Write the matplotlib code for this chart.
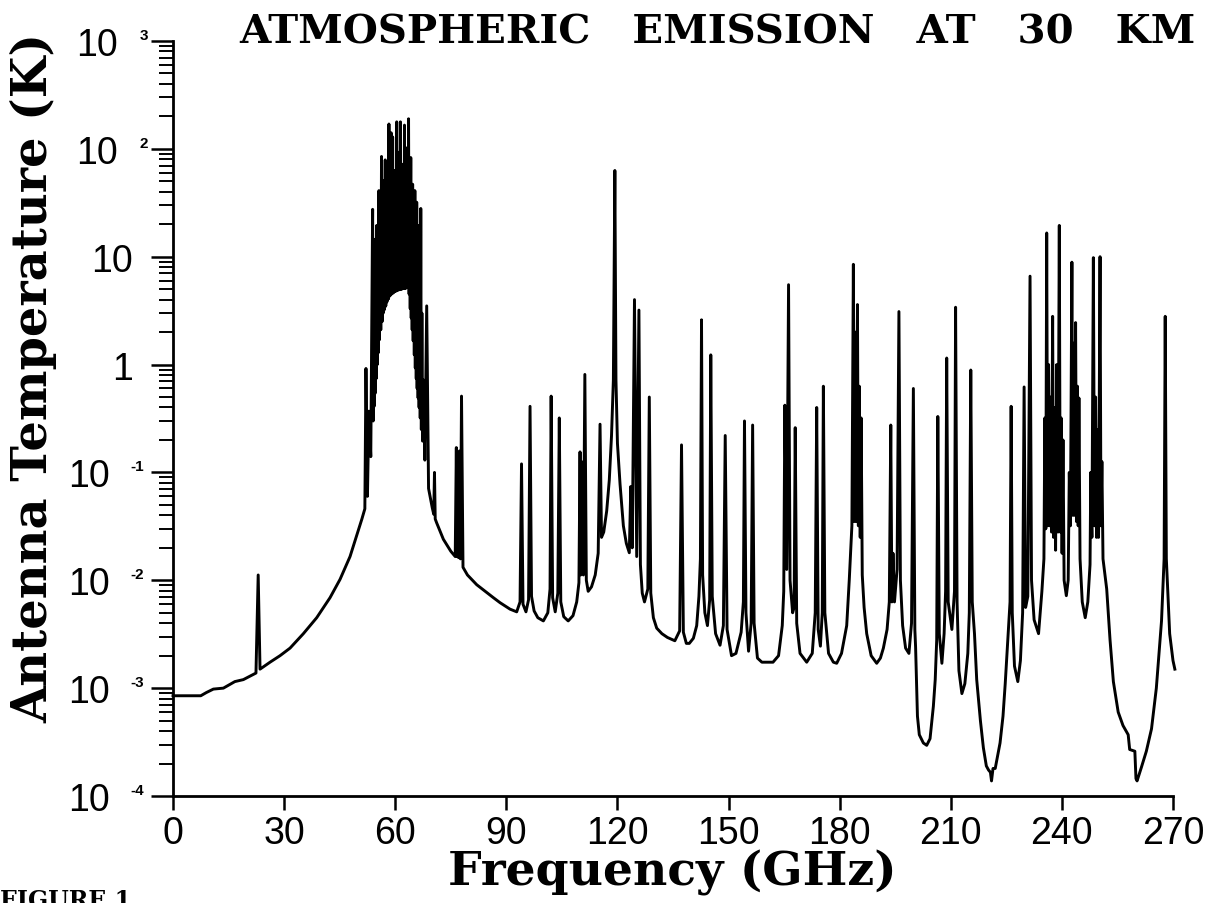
import numpy as np
import matplotlib
matplotlib.use('Agg')
import matplotlib.pyplot as plt
from matplotlib import transforms
from matplotlib.ticker import LogLocator, NullFormatter

plt.rcParams['font.family'] = ['Liberation Sans', 'DejaVu Sans']

# ---- data ----
# continuum / line wings (GHz, K)
cont_f = [0.0, 3.0, 7.5, 9.0, 10.9, 13.6, 16.7, 19.0, 22.4,
          23.5, 26.2, 28.9, 31.6, 35.2, 38.8, 42.4, 45.1, 47.8, 49.6, 51.0, 51.8,
          52.5, 69.0, 70.0, 70.4, 70.8, 71.2, 73.0,
          75.0, 76.2, 76.7, 77.1, 77.6, 78.3, 79.5, 82.0, 84.3, 86.5, 88.3, 91.0,
          92.8, 93.7, 94.5, 95.3, 96.0, 96.8, 97.5, 98.5, 100.0, 101.2, 101.8,
          102.5, 103.2, 103.9, 104.7, 105.5, 106.7, 108.0, 109.0, 109.6, 110.1,
          110.8, 111.6, 112.1, 113.0, 114.0, 114.8, 115.7, 116.3, 117.1, 117.8,
          118.4, 118.9, 119.6, 120.0, 120.7, 121.6, 122.4, 123.2, 124.0, 125.2,
          126.2, 126.7, 127.3, 128.2, 129.0, 129.7, 130.6, 132.0, 133.5, 135.5,
          136.8, 137.8, 138.6, 139.4, 140.5, 141.4, 142.0, 142.4, 143.0, 143.6,
          144.3, 144.9, 145.6, 146.5, 147.7, 148.6, 149.6, 150.8, 152.0, 153.4,
          154.0, 154.7, 155.4, 156.1, 156.9, 157.8, 159.0, 162.0, 163.5, 164.5,
          164.9, 165.7, 166.6, 167.3, 167.7, 168.4, 169.3, 171.1, 172.6, 173.4,
          174.2, 174.8, 175.3, 176.0, 177.0, 178.3, 179.2, 180.5, 181.9, 182.6,
          183.3, 183.95, 184.5, 185.05, 185.55, 186.1, 186.6, 187.3, 188.5, 190.0,
          191.0, 191.8, 192.8, 193.4, 194.1, 194.8, 195.5, 196.4, 197.0, 197.8,
          198.7, 199.4, 200.3, 200.5, 201.0, 201.5, 202.6, 203.5, 204.4, 205.3,
          205.8, 206.2, 206.9, 207.6, 208.2, 208.6, 209.3, 210.3, 211.0, 211.7,
          212.2, 213.0, 213.8, 214.6, 215.0, 215.8, 216.4, 217.0, 218.0, 218.8,
          219.6, 220.2, 220.7, 221.0, 221.4, 222.0, 223.3, 224.1, 224.7, 225.5,
          226.0, 226.6, 227.2, 228.1, 228.8, 229.4, 230.2, 230.8, 231.8, 232.5,
          233.7, 234.6, 235.15, 235.65, 236.15, 236.65, 237.2, 237.75, 238.3,
          238.95, 239.55, 240.05, 240.6, 241.2, 241.7, 242.3, 242.95, 243.45,
          243.95, 244.4, 244.9, 245.5, 246.3, 247.0, 247.6, 248.1, 248.8, 249.35,
          249.9, 250.55, 251.1, 252.1, 253.0, 253.9, 255.2, 256.5, 257.9, 258.3,
          259.7, 260.0, 260.3, 261.5, 262.8, 264.2, 265.5, 266.9, 267.6, 268.2,
          269.1, 270.0, 270.5]
cont_T = [8.5e-4, 8.5e-4, 8.5e-4, 9.1e-4, 9.8e-4, 1.0e-3, 1.15e-3, 1.2e-3, 1.38e-3,
          1.5e-3, 1.74e-3, 2.0e-3, 2.35e-3, 3.2e-3, 4.5e-3, 6.9e-3, 1.02e-2, 1.66e-2, 2.6e-2, 3.7e-2, 4.6e-2,
          6.0e-2, 0.071, 0.047, 0.041, 0.037, 0.034, 0.024,
          0.0186, 0.0166, 0.0166, 0.0162, 0.0158, 0.0132, 0.0112, 9.1e-3, 7.9e-3, 6.9e-3, 6.2e-3, 5.4e-3,
          5.1e-3, 6.3e-3, 6.0e-3, 5.1e-3, 6.6e-3, 7.1e-3, 5.2e-3, 4.5e-3, 4.2e-3, 5.0e-3, 8.3e-3,
          6.9e-3, 5.1e-3, 7.6e-3, 6.3e-3, 4.6e-3, 4.2e-3, 4.7e-3, 6.3e-3, 9.5e-3, 0.0112,
          0.0112, 0.010, 7.9e-3, 8.7e-3, 0.0112, 0.0178, 0.025, 0.028, 0.044, 0.085,
          0.22, 0.72, 0.72, 0.186, 0.078, 0.032, 0.022, 0.018, 0.020, 0.0166,
          0.014, 7.6e-3, 6.3e-3, 8.3e-3, 7.6e-3, 4.5e-3, 3.6e-3, 3.2e-3, 2.95e-3, 2.75e-3,
          3.4e-3, 3.3e-3, 2.6e-3, 2.6e-3, 2.9e-3, 3.8e-3, 7.1e-3, 0.0158, 0.0112, 5.0e-3,
          3.8e-3, 6.6e-3, 7.1e-3, 3.2e-3, 2.5e-3, 3.8e-3, 3.5e-3, 2.0e-3, 2.1e-3, 3.3e-3,
          6.3e-3, 5.0e-3, 2.2e-3, 4.0e-3, 4.0e-3, 1.9e-3, 1.74e-3, 1.74e-3, 2.0e-3, 3.8e-3,
          7.9e-3, 0.0126, 0.010, 5.0e-3, 5.6e-3, 4.0e-3, 2.1e-3, 1.74e-3, 2.1e-3, 5.0e-3,
          3.5e-3, 2.45e-3, 5.0e-3, 5.0e-3, 2.1e-3, 1.74e-3, 1.7e-3, 2.1e-3, 3.8e-3, 0.0102,
          0.032, 0.035, 0.035, 0.032, 0.025, 0.0112, 5.6e-3, 3.2e-3, 2.0e-3, 1.7e-3,
          1.9e-3, 2.35e-3, 3.5e-3, 6.3e-3, 6.3e-3, 6.3e-3, 0.0126, 0.010, 3.8e-3, 2.35e-3,
          2.1e-3, 4.0e-3, 3.5e-3, 2.4e-3, 5.5e-4, 3.7e-4, 3.1e-4, 2.95e-4, 3.4e-4, 6.8e-4,
          1.2e-3, 2.8e-3, 3.2e-3, 1.7e-3, 3.2e-3, 7.9e-3, 6.3e-3, 3.5e-3, 7.9e-3, 6.3e-3,
          1.45e-3, 8.9e-4, 1.1e-3, 2.1e-3, 5.0e-3, 6.3e-3, 3.2e-3, 1.2e-3, 5.0e-4, 2.8e-4,
          1.9e-4, 1.74e-4, 1.66e-4, 1.38e-4, 1.8e-4, 1.8e-4, 3.1e-4, 5.5e-4, 1.1e-3, 3.2e-3,
          6.3e-3, 5.0e-3, 1.6e-3, 1.15e-3, 1.8e-3, 5.0e-3, 5.6e-3, 7.1e-3, 0.010, 4.3e-3,
          3.2e-3, 7.9e-3, 0.0158, 0.030, 0.032, 0.032, 0.028, 0.025, 0.019,
          0.028, 0.028, 0.0178, 0.010, 7.2e-3, 0.010, 0.032, 0.040, 0.040,
          0.035, 0.032, 0.0158, 6.3e-3, 4.5e-3, 6.3e-3, 0.014, 0.025, 0.032, 0.025,
          0.025, 0.032, 0.0158, 8.3e-3, 2.8e-3, 1.15e-3, 6.0e-4, 4.5e-4, 3.7e-4, 2.7e-4,
          2.6e-4, 1.45e-4, 1.38e-4, 1.86e-4, 2.6e-4, 4.2e-4, 1.0e-3, 4.2e-3, 0.0158, 0.0158,
          3.2e-3, 1.8e-3, 1.5e-3]

# isolated line peaks (GHz, K)
line_f = [23.0, 52.1, 52.9, 68.5, 70.6, 76.5, 76.9, 77.3, 77.9,
          94.1, 96.4, 102.1, 104.3, 109.9, 110.3, 111.2, 115.3, 119.3, 123.6,
          124.6, 125.8, 128.6, 137.3, 142.7, 145.2, 149.1, 154.3, 156.5, 165.2,
          166.2, 168.0, 173.8, 175.6, 183.7, 184.2, 184.8, 185.3, 185.8, 193.8,
          194.4, 196.0, 199.9, 206.5, 208.9, 211.3, 215.4, 226.3, 229.8, 231.4,
          235.4, 235.9, 236.4, 236.9, 237.5, 238.0, 238.6, 239.3, 239.8, 240.3,
          242.0, 242.7, 243.2, 243.7, 244.2, 244.6, 247.8, 248.5, 249.1, 249.6,
          250.3, 250.8, 267.9]
line_T = [0.0112, 0.92, 0.37, 3.5, 0.10, 0.17, 0.14, 0.158, 0.51,
          0.12, 0.41, 0.51, 0.32, 0.155, 0.126, 0.81, 0.28, 63, 0.074,
          4.0, 3.2, 0.50, 0.18, 2.6, 1.23, 0.22, 0.30, 0.275, 0.42,
          5.5, 0.26, 0.40, 0.63, 8.5, 2.0, 3.6, 0.63, 0.32, 0.275,
          0.0178, 3.1, 0.60, 0.33, 1.15, 3.4, 0.89, 0.41, 0.62, 6.6,
          0.32, 16.6, 1.0, 0.50, 2.8, 0.40, 1.0, 19.5, 0.32, 0.20,
          0.10, 8.9, 1.58, 2.45, 0.63, 0.49, 0.10, 9.8, 0.50, 0.25,
          10, 0.126, 2.8]

# 60 GHz oxygen band: lower envelope and line peaks
band_base_f = [53.4, 54.05, 54.3, 54.55, 54.85, 55.15, 55.45, 55.75, 56.1, 56.45,
               56.75, 57.0, 57.2, 57.45, 57.75, 58.0, 58.2, 58.45, 58.75, 59.0,
               59.2, 59.42, 59.68, 59.95, 60.25, 60.55, 60.85, 61.1, 61.3, 61.52,
               61.78, 62.05, 62.35, 62.62, 62.88, 63.15, 63.45, 63.75, 64.05, 64.32,
               64.58, 64.85, 65.15, 65.42, 65.68, 65.92, 66.18, 66.45, 66.75, 67.05,
               67.4, 68.0]
band_base_T = [0.14, 0.30, 0.41, 0.54, 0.74, 1.0, 1.29, 1.7, 2.1, 2.5,
               3.0, 3.2, 3.4, 3.5, 3.8, 4.0, 4.1, 4.3, 4.4, 4.5,
               4.6, 4.6, 4.7, 4.8, 4.8, 4.9, 4.9, 5.0, 5.0, 5.0,
               5.0, 5.1, 5.1, 5.1, 5.1, 5.2, 5.2, 4.5, 3.3, 2.7,
               2.1, 1.66, 1.23, 0.93, 0.74, 0.60, 0.49, 0.40, 0.32, 0.25,
               0.195, 0.13]
band_f = [53.9, 54.2, 54.4, 54.7, 55.0, 55.3, 55.6, 55.9, 56.3, 56.6,
          56.9, 57.1, 57.3, 57.6, 57.9, 58.1, 58.3, 58.6, 58.9, 59.1,
          59.3, 59.55, 59.8, 60.1, 60.4, 60.7, 61.0, 61.2, 61.4, 61.65,
          61.9, 62.2, 62.5, 62.75, 63.0, 63.3, 63.6, 63.9, 64.2, 64.45,
          64.7, 65.0, 65.3, 65.55, 65.8, 66.05, 66.3, 66.6, 66.9, 67.2, 67.6]
band_T = [27.5, 12, 14.5, 10, 19.5, 18, 41, 25, 85, 35,
          51, 40, 79, 45, 69, 50, 170, 60, 141, 55,
          129, 50, 63, 60, 178, 55, 93, 60, 178, 55,
          72, 60, 166, 55, 102, 60, 190, 45, 83, 35,
          47, 30, 41, 25, 32, 18, 19.5, 15, 28, 3.0, 0.72]

xtick_vals = [0, 30, 60, 90, 120, 150, 180, 210, 240, 270]
ytick_vals = [1e-4, 1e-3, 1e-2, 1e-1, 1, 10, 100, 1000]
ytick_base = ['10', '10', '10', '10', '1', '10', '10', '10']
ytick_exp = ['-4', '-3', '-2', '-1', '', '', '2', '3']

# ---- figure ----
W, H = 1219, 904
fig = plt.figure(figsize=(W / 100, H / 100), dpi=100)
ax = fig.add_axes([173 / W, 1 - 797 / H, 1000 / W, 755 / H])

f_all = np.concatenate([cont_f, line_f, band_base_f, band_f])
T_all = np.concatenate([cont_T, line_T, band_base_T, band_T])
order = np.argsort(f_all, kind='stable')
ax.plot(f_all[order], T_all[order], color='black', lw=2.1, clip_on=False)

ax.set_yscale('log')
ax.set_xlim(0, 270)
ax.set_ylim(1e-4, 1e3)

for s in ['top', 'right']:
    ax.spines[s].set_visible(False)
for s in ['left', 'bottom']:
    ax.spines[s].set_linewidth(2.0)

ax.set_xticks(xtick_vals)
ax.set_xticklabels([str(v) for v in xtick_vals])
ax.tick_params(axis='x', length=10, width=1.8, direction='out', labelsize=27, pad=4)

ax.set_yticks(ytick_vals)
ax.set_yticklabels([''] * len(ytick_vals))
ax.yaxis.set_minor_locator(LogLocator(base=10, subs=np.arange(2, 10), numticks=100))
ax.yaxis.set_minor_formatter(NullFormatter())
ax.tick_params(axis='y', which='major', length=16, width=1.8, direction='out')
ax.tick_params(axis='y', which='minor', length=10, width=1.4, direction='out')

# y tick labels: "10" plus small bold exponent
ytr = ax.get_yaxis_transform()
base_tr = transforms.offset_copy(ytr, fig=fig, x=0, y=-14, units='dots')
exp_tr = transforms.offset_copy(ytr, fig=fig, x=0, y=2, units='dots')
for v, b, e in zip(ytick_vals, ytick_base, ytick_exp):
    if e.startswith('-'):
        xr, xe = 110, 130
    elif e:
        xr, xe = 118, 140
    else:
        xr, xe = 133, 140
    ax.text((xr - 173) / 1000, v, b, transform=base_tr, ha='right', va='baseline',
            fontsize=27, clip_on=False)
    if e:
        ax.text((xe - 173) / 1000, v, e, transform=exp_tr, ha='left', va='baseline',
                fontsize=11, fontweight='bold', clip_on=False)

serif = ['DejaVu Serif']
fig.text(717 / W, 1 - 43 / H, 'ATMOSPHERIC   EMISSION   AT   30   KM', ha='center',
         va='baseline', fontsize=29, fontweight='bold', family=serif)
fig.text(34 / W, 1 - 378 / H, 'Antenna Temperature (K)', rotation=90, ha='center',
         va='center', fontsize=34.5, fontweight='bold', family=serif)
fig.text(672 / W, 1 - 886 / H, 'Frequency (GHz)', ha='center', va='baseline',
         fontsize=34, fontweight='bold', family=serif)
fig.text(0.0, 1 - 889 / H, 'FIGURE 1', ha='left', va='top', fontsize=17,
         fontweight='bold', family=serif)

fig.savefig('out.png', dpi=100)
